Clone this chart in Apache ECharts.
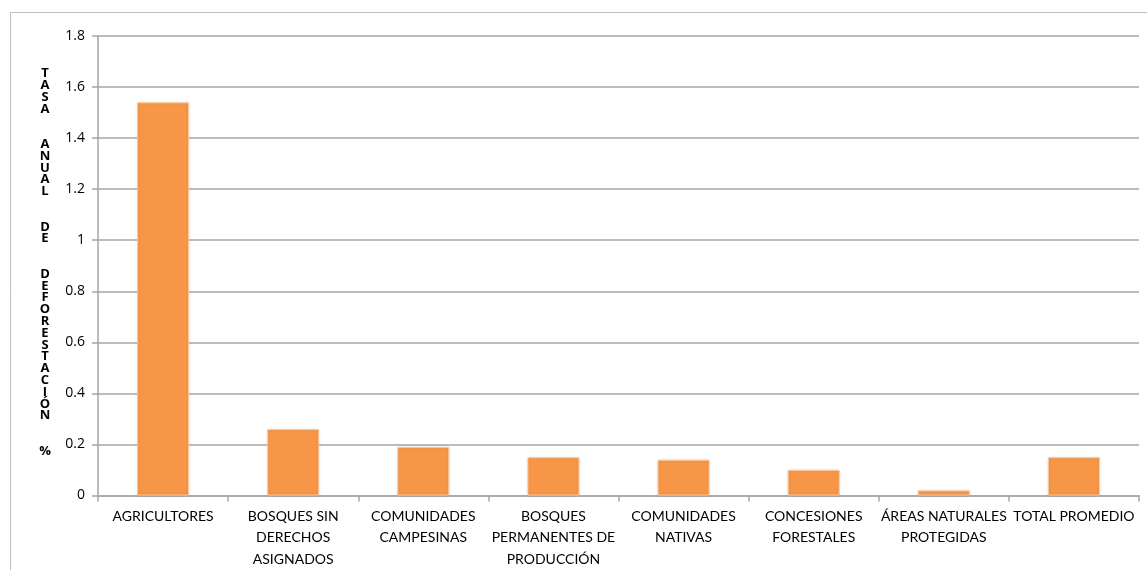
<!DOCTYPE html>
<html>
<head>
<meta charset="utf-8">
<script src="https://cdn.jsdelivr.net/npm/echarts@6/dist/echarts.min.js"></script>
<style>
html,body{margin:0;padding:0;background:#fff;}
#chart{width:1147px;height:570px;}
</style>
</head>
<body>
<div id="chart"></div>
<script>
const categories = [
  "AGRICULTORES",
  "BOSQUES SIN\nDERECHOS\nASIGNADOS",
  "COMUNIDADES\nCAMPESINAS",
  "BOSQUES\nPERMANENTES DE\nPRODUCCIÓN",
  "COMUNIDADES\nNATIVAS",
  "CONCESIONES\nFORESTALES",
  "ÁREAS NATURALES\nPROTEGIDAS",
  "TOTAL PROMEDIO"
];
const values = [1.54, 0.26, 0.19, 0.15, 0.14, 0.10, 0.02, 0.15];
const yAxisTitle = "TASA  ANUAL  DE  DEFORESTACIÓN  %";

const chart = echarts.init(document.getElementById('chart'));
const stacked = yAxisTitle.split('').map(c => c === ' ' ? '' : c).join('\n');

chart.setOption({
  animation: false,
  grid: {left: 98, right: 8, top: 36, bottom: 72},
  graphic: [
    {type: 'rect', shape: {x: 10.5, y: 12.5, width: 1200, height: 700},
     style: {fill: 'none', stroke: '#bfbfbf', lineWidth: 1}, silent: true, z: -1},
    {type: 'text', left: 38, top: 67,
     style: {text: stacked, font: 'bold 13px "Open Sans", sans-serif', fill: '#000',
             lineHeight: 11.8, textAlign: 'center', width: 14}}
  ],
  xAxis: {
    type: 'category',
    data: categories,
    axisLine: {show: true, lineStyle: {color: '#a6a6a6', width: 1.5}},
    axisTick: {show: true, length: 6, lineStyle: {color: '#a6a6a6', width: 1.5}},
    axisLabel: {color: '#000', fontSize: 14, fontFamily: 'Lato, sans-serif', lineHeight: 21.5, margin: 10, interval: 0}
  },
  yAxis: {
    type: 'value',
    min: 0, max: 1.8, interval: 0.2,
    axisLine: {show: true, lineStyle: {color: '#a6a6a6', width: 1.5}},
    axisTick: {show: true, length: 6, lineStyle: {color: '#a6a6a6', width: 1.5}},
    splitLine: {show: true, lineStyle: {color: '#a6a6a6', width: 1.5}},
    axisLabel: {color: '#000', fontSize: 14, fontFamily: '"Open Sans", sans-serif', margin: 13}
  },
  series: [{
    type: 'bar',
    data: values,
    barWidth: '40%',
    itemStyle: {color: '#f79646', borderColor: '#fbc9a0', borderWidth: 1,
                shadowColor: 'rgba(0,0,0,0.12)', shadowBlur: 3}
  }]
});
</script>
</body>
</html>
